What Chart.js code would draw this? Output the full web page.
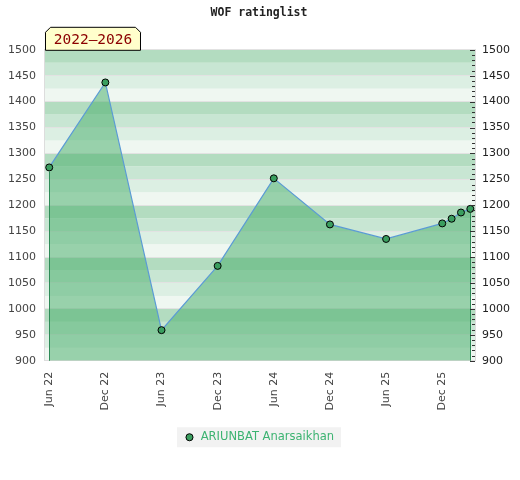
<!DOCTYPE html>
<html>
<head>
<meta charset="utf-8">
<script src="https://cdn.jsdelivr.net/npm/chart.js@4/dist/chart.umd.min.js"></script>
<style>
  html, body { margin: 0; padding: 0; background: #fff; }
  #wrap { width: 520px; height: 480px; }
</style>
</head>
<body>
<div id="wrap"><canvas id="ratingChart" width="520" height="480"></canvas></div>
<script>
// months counted from Jun 2022
const months = [0, 6, 12, 18, 24, 30, 36, 42, 43, 44, 45];
const ratings = [1273, 1437, 959, 1083, 1252, 1163, 1135, 1165, 1174, 1186, 1193];
const tickMonths = [0, 6, 12, 18, 24, 30, 36, 42];
const tickLabels = ["Jun 22", "Dec 22", "Jun 23", "Dec 23", "Jun 24", "Dec 24", "Jun 25", "Dec 25"];
const playerName = "ARIUNBAT Anarsaikhan";
const periodLabel = "2022\u20132026";
const chartTitle = "WOF ratinglist";

// band colours inside every 100 points, bottom quarter first
const bandColors = ["#eff7f1", "#dcefe3", "#c8e6d3", "#b3dcc0"];
const seaGreen = "#3cb371";

Chart.defaults.font.family = "'DejaVu Sans', sans-serif";
Chart.defaults.font.size = 11;
Chart.defaults.color = "#444";

// chart.js counts tick padding twice for vertical axes, take one back
const trimPadding = s => { s.width -= s.options.ticks.padding; };

const bandsPlugin = {
  id: "bands",
  beforeDraw(chart) {
    const { ctx, chartArea: a } = chart;
    const y = chart.scales.y;
    ctx.save();
    for (let v = y.min; v < y.max; v += 25) {
      const idx = Math.round((v % 100) / 25);
      const top = y.getPixelForValue(v + 25);
      const bot = y.getPixelForValue(v);
      ctx.fillStyle = bandColors[idx];
      ctx.fillRect(a.left, top, a.right - a.left, bot - top);
    }
    // legend background
    const hb = chart.legend && chart.legend.legendHitBoxes && chart.legend.legendHitBoxes[0];
    if (hb) {
      ctx.fillStyle = "#f2f2f2";
      ctx.fillRect(hb.left - 7, hb.top + hb.height / 2 - 10, hb.width + 14, 20);
    }
    ctx.restore();
  },
  afterDatasetsDraw(chart) {
    const { ctx, chartArea: a } = chart;
    const meta = chart.getDatasetMeta(0);
    const first = meta.data[0];
    const last = meta.data[meta.data.length - 1];
    ctx.save();
    ctx.strokeStyle = "#2e8b57";
    ctx.lineWidth = 1;
    [first, last].forEach(p => {
      const x = Math.round(p.x) + 0.5;
      ctx.beginPath();
      ctx.moveTo(x, p.y + 4);
      ctx.lineTo(x, a.bottom);
      ctx.stroke();
    });
    ctx.restore();
  },
  afterDraw(chart) {
    const { ctx, chartArea: a } = chart;
    const y = chart.scales.y;
    ctx.save();
    // minor ticks on the right side, inside the plot
    ctx.strokeStyle = "#333";
    ctx.lineWidth = 1;
    for (let v = y.min; v <= y.max; v += 10) {
      const py = Math.round(y.getPixelForValue(v)) + 0.5;
      const len = v % 50 === 0 ? 5 : 3;
      ctx.beginPath();
      ctx.moveTo(a.right - len, py);
      ctx.lineTo(a.right, py);
      ctx.stroke();
    }
    // period badge
    const x0 = a.left + 0.5, x1 = a.left + 95.5, y0 = a.top - 22.5, y1 = a.top + 0.5, c = 5;
    ctx.beginPath();
    ctx.moveTo(x0, y1);
    ctx.lineTo(x0, y0 + c);
    ctx.lineTo(x0 + c, y0);
    ctx.lineTo(x1 - c, y0);
    ctx.lineTo(x1, y0 + c);
    ctx.lineTo(x1, y1);
    ctx.closePath();
    ctx.fillStyle = "#ffffcc";
    ctx.fill();
    ctx.strokeStyle = "#000";
    ctx.stroke();
    ctx.fillStyle = "#8b0000";
    ctx.font = "14.5px 'DejaVu Sans Mono', monospace";
    ctx.textAlign = "center";
    ctx.textBaseline = "middle";
    ctx.fillText(periodLabel, (x0 + x1) / 2, (y0 + y1) / 2 + 1);
    ctx.restore();
  }
};

new Chart(document.getElementById("ratingChart"), {
  type: "line",
  data: {
    datasets: [{
      label: playerName,
      data: months.map((m, i) => ({ x: m, y: ratings[i] })),
      borderColor: "#5b9bd5",
      borderWidth: 1.2,
      backgroundColor: "rgba(75,175,109,0.53)",
      fill: "start",
      tension: 0,
      pointRadius: 3.5,
      pointBackgroundColor: "#3a9e5f",
      pointBorderColor: "#000",
      pointBorderWidth: 1
    }]
  },
  options: {
    responsive: false,
    animation: false,
    layout: { padding: { left: 8, right: 10, top: 0, bottom: 27 } },
    plugins: {
      title: {
        display: true,
        text: chartTitle,
        color: "#222",
        font: { family: "'DejaVu Sans Mono', monospace", size: 11.5, weight: "bold" },
        padding: { top: 6, bottom: 30 }
      },
      legend: {
        position: "bottom",
        labels: {
          usePointStyle: true,
          pointStyle: "circle",
          boxWidth: 11,
          boxHeight: 5,
          color: seaGreen,
          font: { size: 11.5 },
          padding: 10
        }
      },
      tooltip: { enabled: false }
    },
    scales: {
      x: {
        type: "linear",
        min: -0.45,
        max: 45.5,
        afterBuildTicks: s => { s.ticks = tickMonths.map(v => ({ value: v })); },
        afterFit: s => { s.paddingLeft = 0; s.paddingRight = 0; },
        ticks: {
          minRotation: 90,
          maxRotation: 90,
          padding: 11,
          callback: v => tickLabels[tickMonths.indexOf(v)]
        },
        grid: { display: false, drawTicks: false },
        border: { display: true, color: "#ddd" }
      },
      y: {
        position: "left",
        min: 900,
        max: 1500,
        afterFit: trimPadding,
        ticks: { stepSize: 50, padding: 9, callback: v => String(v) },
        grid: { color: "#e2e2e2", drawTicks: false },
        border: { display: true, color: "#ddd" }
      },
      y2: {
        position: "right",
        min: 900,
        max: 1500,
        afterFit: trimPadding,
        ticks: { stepSize: 50, padding: 7, color: "#222", callback: v => String(v) },
        grid: { display: false, drawTicks: false },
        border: { display: true, color: "#ddd" }
      }
    }
  },
  plugins: [bandsPlugin]
});
</script>
</body>
</html>
